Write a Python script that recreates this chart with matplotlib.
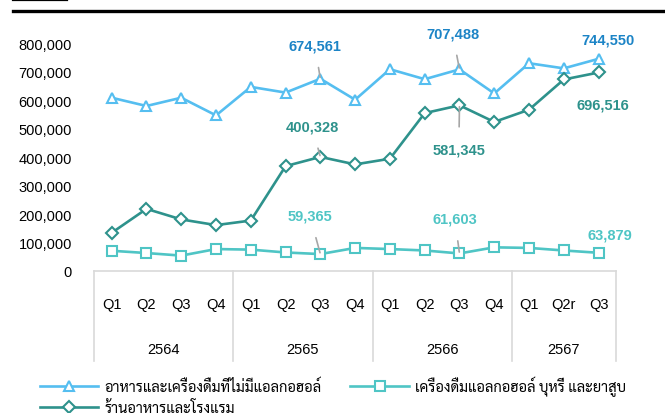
import matplotlib
matplotlib.use("Agg")
import numpy as np
import matplotlib.pyplot as plt
import matplotlib.transforms as mtransforms
from matplotlib import font_manager
from matplotlib.ticker import FuncFormatter

# ข้อมูล (อ่านจากภาพ)
quarters = ["Q1", "Q2", "Q3", "Q4", "Q1", "Q2", "Q3", "Q4",
            "Q1", "Q2", "Q3", "Q4", "Q1", "Q2r", "Q3"]
years = ["2564", "2565", "2566", "2567"]
year_sizes = [4, 4, 4, 3]

food_bev = [608000, 579000, 608000, 546000, 646000, 626000, 674561, 601000,
            708000, 673000, 707488, 623000, 729000, 711000, 744550]
alcohol = [71000, 63000, 54000, 77000, 75000, 65000, 59365, 81000,
           77000, 72000, 61603, 83000, 81000, 72000, 63879]
restaurant = [134000, 218000, 181000, 161000, 177000, 368000, 400328, 374000,
              394000, 554000, 581345, 523000, 566000, 672000, 696516]

names = ["อาหารและเครื่องดื่มที่ไม่มีแอลกอฮอล์",
         "เครื่องดื่มแอลกอฮอล์ บุหรี่ และยาสูบ",
         "ร้านอาหารและโรงแรม"]

# ป้ายตัวเลข: (index, offset x, offset y, มีเส้นชี้หรือไม่)
lab_food = [(6, -4, 24, True), (10, -5, 26, True), (14, 6.5, 14, False)]
lab_rest = [(6, -6, 22, True), (10, -0.5, -31.5, True), (14, 3, -23, False)]
lab_alc = [(6, -7.5, 27.5, True), (10, -3.4, 25, True), (14, 8, 13, False)]

c_food, c_food_lab = "#55BEF0", "#1C84C6"
c_rest = "#2E928C"
c_alc = "#4FC5C5"
c_grid = "#D9D9D9"

# หาฟอนต์ไทยที่มีในเครื่อง
avail = set(f.name for f in font_manager.fontManager.ttflist)
thai = "DejaVu Sans"
for cand in ["Sarabun", "Noto Sans Thai Looped", "Athiti", "Noto Sans Thai", "Loma", "Garuda"]:
    if cand in avail:
        thai = cand
        break

plt.rcParams["font.family"] = ["Liberation Sans", thai, "DejaVu Sans"]

fig, ax = plt.subplots(figsize=(6.65, 4.14), dpi=100)
fig.subplots_adjust(left=0.1418, right=0.9263, bottom=0.343, top=0.8937)

x = np.arange(len(quarters))
h1, = ax.plot(x, food_bev, color=c_food, lw=1.9, marker="^", ms=7.5,
              mfc="white", mec=c_food, mew=1.5, label=names[0], zorder=3)
h2, = ax.plot(x, alcohol, color=c_alc, lw=1.9, marker="s", ms=7,
              mfc="white", mec=c_alc, mew=1.5, label=names[1], zorder=3)
h3, = ax.plot(x, restaurant, color=c_rest, lw=1.9, marker="D", ms=6.5,
              mfc="white", mec=c_rest, mew=1.5, label=names[2], zorder=3)

def put_labels(vals, labs, color):
    for i, dx, dy, lead in labs:
        ap = None
        if lead:
            ap = dict(arrowstyle="-", color="#A6A6A6", lw=1.2, shrinkA=9, shrinkB=1)
        ax.annotate("{:,}".format(vals[i]), xy=(i, vals[i]), xytext=(dx, dy),
                    textcoords="offset points", ha="center", va="center",
                    fontsize=10.5, fontweight="bold", color=color,
                    arrowprops=ap, annotation_clip=False, zorder=4)

put_labels(food_bev, lab_food, c_food_lab)
put_labels(restaurant, lab_rest, c_rest)
put_labels(alcohol, lab_alc, c_alc)

ax.set_xlim(-0.5, len(quarters) - 0.5)
ax.set_ylim(0, 800000)
ax.set_yticks(np.arange(0, 800001, 100000))
ax.yaxis.set_major_formatter(FuncFormatter(lambda v, p: "{:,}".format(int(v))))
ax.tick_params(axis="y", length=0, pad=16, labelsize=10.5)
ax.set_xticks(x)
ax.set_xticklabels(quarters)
ax.tick_params(axis="x", length=0, pad=18.5, labelsize=10.5)

for s in ["top", "right", "left"]:
    ax.spines[s].set_visible(False)
ax.spines["bottom"].set_color(c_grid)
ax.spines["bottom"].set_linewidth(1.2)

# ตารางหมวดปีใต้แกน
trans = mtransforms.blended_transform_factory(ax.transData, ax.transAxes)
edges = np.concatenate([[0], np.cumsum(year_sizes)]) - 0.5
for e in edges:
    ax.plot([e, e], [0, -0.395], transform=trans, color=c_grid, lw=1.2, clip_on=False)
for k, yr in enumerate(years):
    ax.text((edges[k] + edges[k + 1]) / 2, -0.34, yr, transform=trans,
            ha="center", va="center", fontsize=10.5)

# เส้นดำด้านบน
fig.add_artist(plt.Line2D([13 / 665, 1], [1 - 11.7 / 414] * 2, color="black", lw=2.4))
fig.add_artist(plt.Line2D([13 / 665, 67 / 665], [1 - 0.8 / 414] * 2, color="black", lw=1.6))

leg = fig.legend(handles=[h1, h3, h2], ncol=2, loc="upper left",
                 bbox_to_anchor=(40 / 665, 1 - 377 / 414), frameon=False,
                 fontsize=10.5, handlelength=4.0, handletextpad=0.4,
                 columnspacing=2.0, labelspacing=0.38, borderpad=0, borderaxespad=0)
for t in leg.get_texts():
    t.set_family([thai, "DejaVu Sans"])

fig.savefig("out.png", dpi=100)
